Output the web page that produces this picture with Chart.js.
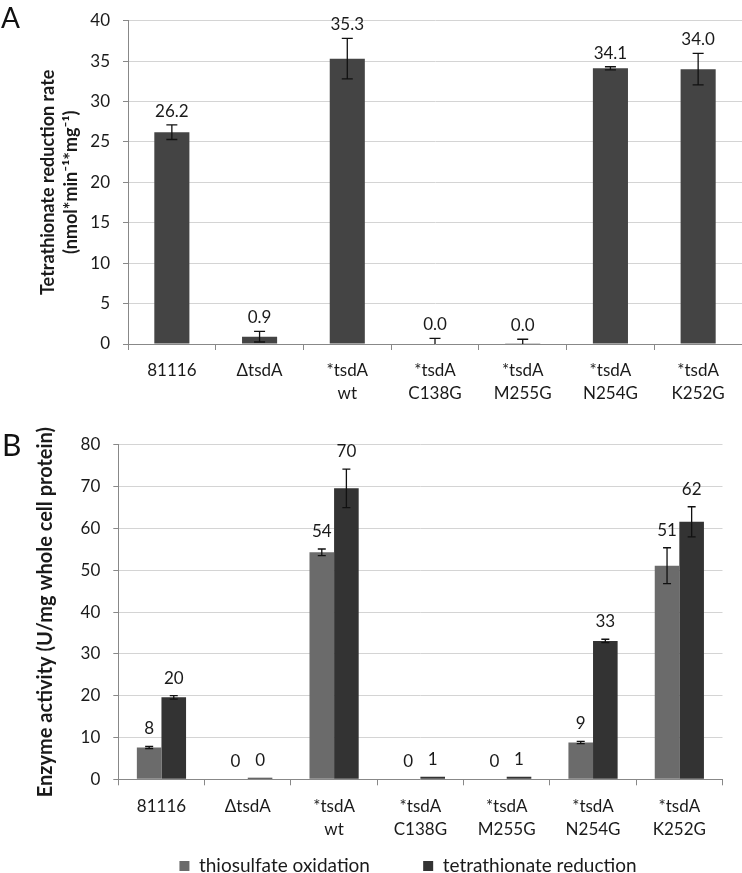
<!DOCTYPE html>
<html>
<head>
<meta charset="utf-8">
<script src="https://cdn.jsdelivr.net/npm/chart.js@4.4.0/dist/chart.umd.min.js"></script>
<style>
  html, body { margin: 0; padding: 0; background: #fff; overflow: hidden; width: 742px; height: 873px; }
  #chartA { position: absolute; left: 0; top: 0; }
  #chartB { position: absolute; left: 0; top: 420px; }
  .panel { position: absolute; font-family: Lato, sans-serif; color: #111; line-height: 1; }
</style>
</head>
<body>
<canvas id="chartA" width="742" height="420"></canvas>
<canvas id="chartB" width="816" height="466"></canvas>
<div class="panel" style="left:1px; top:3px; font-size:28px;">A</div>
<div class="panel" style="left:2px; top:429px; font-size:30px;">B</div>
<script>
const categories = [['81116'], ['ΔtsdA'], ['*tsdA', 'wt'], ['*tsdA', 'C138G'], ['*tsdA', 'M255G'], ['*tsdA', 'N254G'], ['*tsdA', 'K252G']];

// panel A - tetrathionate reduction rate
const rateA = [26.2, 0.9, 35.3, 0.0, 0.04, 34.1, 34.0];
const rateAErr = [0.9, 0.65, 2.5, 0.7, 0.55, 0.2, 1.95];

// panel B - enzyme activity
const thioOx = [7.6, 0, 54.3, 0, 0, 8.8, 51.1];
const thioOxErr = [0.25, 0, 0.8, 0, 0, 0.25, 4.3];
const tetraRed = [19.6, 0.4, 69.6, 0.6, 0.6, 33.1, 61.6];
const tetraRedErr = [0.4, 0, 4.6, 0, 0, 0.4, 3.6];

const FONT = 'Lato';
const TEXT = '#1a1a1a';

// error bars + value labels drawn from the bar elements and y scale
const errorBars = {
    id: 'errorBars',
    afterDatasetsDraw(chart, args, opts) {
        const { ctx, chartArea } = chart;
        const y = chart.scales.y;
        ctx.save();
        chart.data.datasets.forEach((ds, di) => {
            chart.getDatasetMeta(di).data.forEach((bar, i) => {
                const v = ds.data[i];
                const e = ds.errors[i];
                const top = y.getPixelForValue(v + e);
                if (e) {
                    const bot = Math.min(y.getPixelForValue(v - e), chartArea.bottom);
                    ctx.strokeStyle = '#111';
                    ctx.lineWidth = 1.3;
                    ctx.beginPath();
                    ctx.moveTo(bar.x, top);
                    ctx.lineTo(bar.x, bot);
                    ctx.moveTo(bar.x - opts.cap, top);
                    ctx.lineTo(bar.x + opts.cap, top);
                    if (bot < chartArea.bottom) {
                        ctx.moveTo(bar.x - opts.cap, bot);
                        ctx.lineTo(bar.x + opts.cap, bot);
                    }
                    ctx.stroke();
                }
                ctx.fillStyle = TEXT;
                ctx.font = '17px ' + FONT;
                ctx.textAlign = 'center';
                ctx.textBaseline = 'bottom';
                ctx.fillText(opts.format(v), bar.x, top - opts.gap);
            });
        });
        ctx.restore();
    }
};

const xScale = (pad, height) => ({
    grid: { drawOnChartArea: false, drawTicks: true, tickLength: 6, color: '#888', tickColor: '#888' },
    border: { color: '#888' },
    ticks: { color: TEXT, font: { family: FONT, size: 17, lineHeight: 1.35 }, padding: pad, maxRotation: 0, autoSkip: false },
    afterFit(s) { s.height = height; }
});

new Chart(document.getElementById('chartA'), {
    type: 'bar',
    data: {
        labels: categories,
        datasets: [{
            data: rateA,
            errors: rateAErr,
            backgroundColor: '#444444',
            barPercentage: 1,
            categoryPercentage: 0.4
        }]
    },
    options: {
        responsive: false,
        animation: false,
        layout: { padding: { top: 8, left: 0, right: 0, bottom: 0 } },
        plugins: {
            legend: { display: false },
            tooltip: { enabled: false },
            errorBars: { cap: 5.5, gap: 5, format: v => v.toFixed(1) }
        },
        scales: {
            x: xScale(9.5, 76),
            y: {
                min: 0,
                max: 40,
                ticks: { stepSize: 5, color: TEXT, font: { family: FONT, size: 17, lineHeight: 0.9 }, padding: 13 },
                grid: { color: '#d4d4d4', tickColor: '#888', tickLength: 5 },
                border: { color: '#888' },
                title: {
                    display: true,
                    text: ['Tetrathionate reduction rate', '(nmol*min\u207B\u00B9*mg\u207B\u00B9)'],
                    color: TEXT,
                    font: { family: FONT, size: 18, weight: 'bold', lineHeight: 1.28 },
                    padding: { top: 36.5, bottom: 0 }
                },
                afterFit(s) { s.width = 128; }
            }
        }
    },
    plugins: [errorBars]
});

new Chart(document.getElementById('chartB'), {
    type: 'bar',
    data: {
        labels: categories,
        datasets: [
            {
                label: 'thiosulfate oxidation',
                data: thioOx,
                errors: thioOxErr,
                backgroundColor: '#6b6b6b',
                barPercentage: 1,
                categoryPercentage: 0.57
            },
            {
                label: 'tetrathionate reduction',
                data: tetraRed,
                errors: tetraRedErr,
                backgroundColor: '#333333',
                barPercentage: 1,
                categoryPercentage: 0.57
            }
        ]
    },
    options: {
        responsive: false,
        animation: false,
        layout: { padding: { top: 24.9, left: 0, right: 0, bottom: 0.5 } },
        plugins: {
            legend: {
                position: 'bottom',
                labels: {
                    boxWidth: 10,
                    boxHeight: 10,
                    padding: 15.2,
                    color: TEXT,
                    font: { family: FONT, size: 19 },
                    // wider gap between the two entries, as in the original
                    generateLabels(chart) {
                        const items = Chart.defaults.plugins.legend.labels.generateLabels(chart);
                        items[0].text += '\u2002\u2002\u2002\u2002';
                        return items;
                    }
                }
            },
            tooltip: { enabled: false },
            errorBars: { cap: 4, gap: 9, format: v => String(Math.round(v)) }
        },
        scales: {
            x: xScale(9.5, 62),
            y: {
                min: 0,
                max: 80,
                ticks: { stepSize: 10, color: TEXT, font: { family: FONT, size: 17, lineHeight: 0.9 }, padding: 13 },
                grid: { color: '#d4d4d4', tickColor: '#888', tickLength: 5 },
                border: { color: '#888' },
                title: {
                    display: true,
                    text: 'Enzyme activity (U/mg whole cell protein)',
                    color: TEXT,
                    font: { family: FONT, size: 20, weight: 'bold', lineHeight: 1.2 },
                    padding: { top: 34, bottom: 0 }
                },
                afterFit(s) { s.width = 118.3; }
            },
            // empty right-hand spacer so the legend centres where the original does
            yR: {
                position: 'right',
                display: true,
                grid: { display: false, drawTicks: false },
                border: { display: false },
                ticks: { display: false },
                afterFit(s) { s.width = 93.5; }
            }
        }
    },
    plugins: [errorBars]
});
</script>
</body>
</html>
